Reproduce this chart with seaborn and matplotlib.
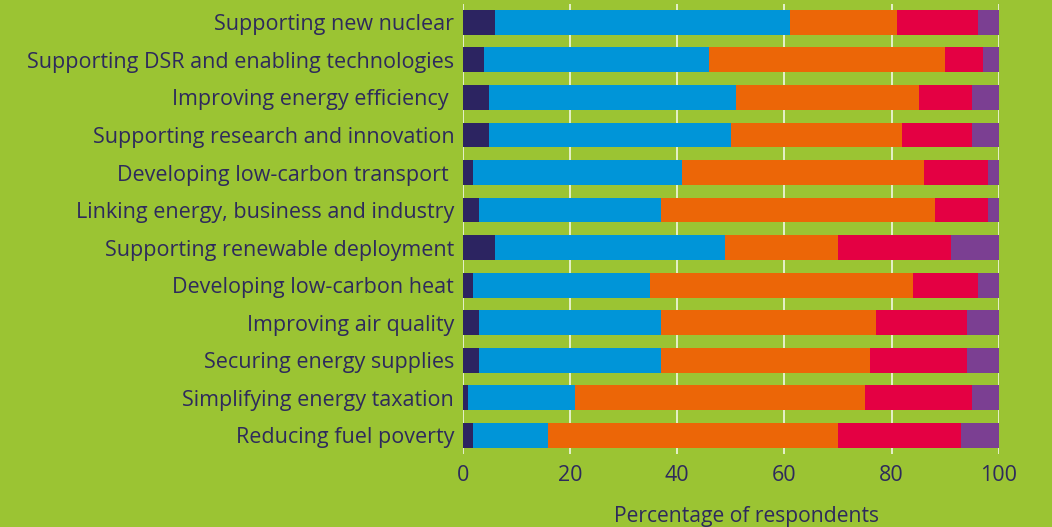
import matplotlib
matplotlib.use("Agg")
import matplotlib.pyplot as plt
import pandas as pd
import seaborn as sns

categories = [
    "Supporting new nuclear",
    "Supporting DSR and enabling technologies",
    "Improving energy efficiency ",
    "Supporting research and innovation",
    "Developing low-carbon transport ",
    "Linking energy, business and industry",
    "Supporting renewable deployment",
    "Developing low-carbon heat",
    "Improving air quality",
    "Securing energy supplies",
    "Simplifying energy taxation",
    "Reducing fuel poverty",
]
# five response groups, left to right
seg1 = [6, 4, 5, 5, 2, 3, 6, 2, 3, 3, 1, 2]
seg2 = [55, 42, 46, 45, 39, 34, 43, 33, 34, 34, 20, 14]
seg3 = [20, 44, 34, 32, 45, 51, 21, 49, 40, 39, 54, 54]
seg4 = [15, 7, 10, 13, 12, 10, 21, 12, 17, 18, 20, 23]
seg5 = [4, 3, 5, 5, 2, 2, 9, 4, 6, 6, 5, 7]

colors = ["#2C2461", "#0095D8", "#EC6607", "#E40043", "#7B3F92"]
bg = "#9BC433"
txt = "#2E2A5C"

df = pd.DataFrame({"cat": categories, "s1": seg1, "s2": seg2, "s3": seg3,
                   "s4": seg4, "s5": seg5})
segs = ["s1", "s2", "s3", "s4", "s5"]
cum = df[segs].cumsum(axis=1)

sns.set_theme(style="white")
plt.rcParams["font.family"] = ["Open Sans", "DejaVu Sans"]

fig = plt.figure(figsize=(10.52, 5.27), dpi=100, facecolor=bg)
ax = fig.add_axes([0.4397, 0.1383, 0.5099, 0.855])
ax.set_facecolor(bg)

# draw cumulative totals from the longest down so each segment shows
for i in range(len(segs) - 1, -1, -1):
    sns.barplot(x=cum[segs[i]], y=df["cat"], color=colors[i], width=0.66,
                saturation=1, orient="h", ax=ax, zorder=2, linewidth=0,
                edgecolor="none")

ax.set_xlim(0, 100)
ax.set_xticks([0, 20, 40, 60, 80, 100])
for xv in [0, 20, 40, 60, 80, 100]:
    ax.axvline(xv, color="white", lw=1.3, alpha=0.8, zorder=1)
for s in ax.spines.values():
    s.set_visible(False)
ax.tick_params(axis="both", length=0, labelsize=15.5, labelcolor=txt)
ax.tick_params(axis="x", pad=8)
ax.tick_params(axis="y", pad=6)
ax.set_ylabel("")
ax.set_xlabel("Percentage of respondents", fontsize=15.2, color=txt)
ax.xaxis.set_label_coords(0.53, -0.115)

fig.savefig("out.png", dpi=100, facecolor=bg)
